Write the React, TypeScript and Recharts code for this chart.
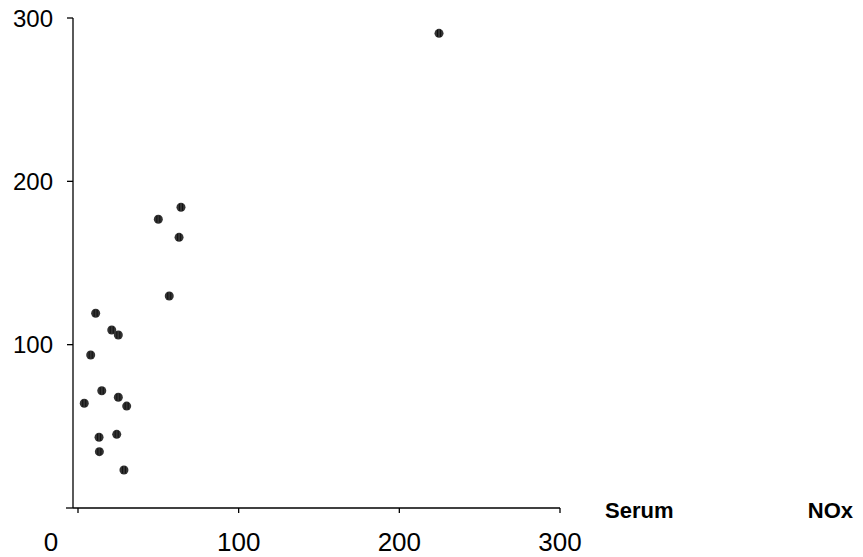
import React from "react";
import { ScatterChart, Scatter, XAxis, YAxis, ReferenceLine } from "recharts";

const xValues = [224.7, 50.0, 64.1, 62.9, 56.8, 11.0, 21.0, 25.1, 7.9, 14.8, 3.9, 25.1, 30.3, 13.1, 24.1, 13.3, 28.6];
const yValues = [290.6, 176.8, 184.1, 165.7, 129.8, 119.2, 109.0, 105.9, 93.7, 71.8, 64.1, 67.8, 62.4, 43.3, 45.1, 34.5, 23.3];
const xTicks = [0, 100, 200, 300];
const yTicks = [100, 200, 300];
const axisTitleLeft = "Serum";
const axisTitleRight = "NOx";

const data = xValues.map((x, i) => ({ x, y: yValues[i] }));

const FONT = "'Liberation Sans', Arial, sans-serif";

const XTick = (props: any) => {
  const { x, y, payload } = props;
  const shift = payload.value === 0 ? -27 : 0;
  return (
    <text x={x + shift} y={y} dy="0.71em" textAnchor="middle" fontSize={26} fontFamily={FONT} fill="#000">
      {payload.value}
    </text>
  );
};

const AxisTitle = (props: any) => {
  const vb = props.viewBox;
  const right = vb.x + vb.width;
  return (
    <g>
      <text x={right + 45} y={vb.y + 10} fontSize={22} fontWeight="bold" fontFamily={FONT} fill="#000">
        {axisTitleLeft}
      </text>
      <text x={right + 293} y={vb.y + 10} textAnchor="end" fontSize={22} fontWeight="bold" fontFamily={FONT} fill="#000">
        {axisTitleRight}
      </text>
    </g>
  );
};

const Dot = (props: any) => {
  const { cx, cy } = props;
  return (
    <g>
      <circle cx={cx} cy={cy} r={4.5} fill="#333" />
      <line x1={cx - 1.5} y1={cy - 3.5} x2={cx - 1.5} y2={cy + 3.5} stroke="#111" strokeWidth={1} />
      <line x1={cx + 1.5} y1={cy - 3.5} x2={cx + 1.5} y2={cy + 3.5} stroke="#111" strokeWidth={1} />
    </g>
  );
};

export default function App() {
  return (
    <div style={{ position: "absolute", left: 0, top: 0, background: "#fff" }}>
      <ScatterChart width={863} height={557} margin={{ top: 18, right: 303, bottom: 0, left: 0 }}>
        <XAxis
          type="number"
          dataKey="x"
          domain={[-3.11, 300]}
          ticks={xTicks}
          allowDataOverflow
          tickSize={5}
          tickMargin={20}
          height={49}
          axisLine={{ stroke: "#000", strokeWidth: 1.3 }}
          tickLine={{ stroke: "#000", strokeWidth: 1.3 }}
          tick={<XTick />}
          label={<AxisTitle />}
        />
        <YAxis
          type="number"
          dataKey="y"
          domain={[0, 300]}
          ticks={yTicks}
          width={73}
          tickSize={6}
          tickMargin={14}
          axisLine={{ stroke: "#000", strokeWidth: 1.3 }}
          tickLine={{ stroke: "#000", strokeWidth: 1.3 }}
          tick={{ fontSize: 24, fontFamily: FONT, fill: "#000" }}
        />
        <ReferenceLine
          segment={[{ x: -7.47, y: 0 }, { x: -3.11, y: 0 }]}
          stroke="#000"
          strokeWidth={1.3}
          ifOverflow="visible"
        />
        <Scatter data={data} shape={<Dot />} isAnimationActive={false} />
      </ScatterChart>
    </div>
  );
}
